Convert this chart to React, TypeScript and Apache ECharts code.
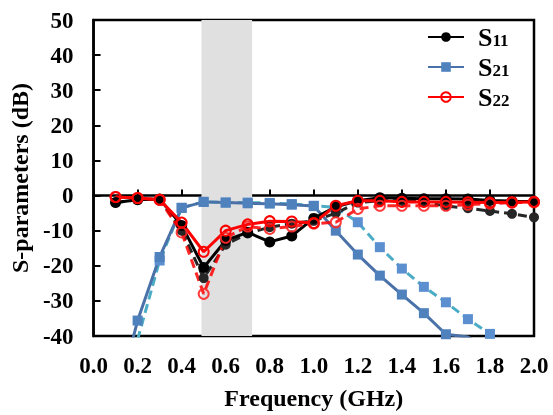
import React, { useEffect, useRef } from "react";
import * as echarts from "echarts";

const freq = [0.1, 0.2, 0.3, 0.4, 0.5, 0.6, 0.7, 0.8, 0.9, 1.0, 1.1, 1.2, 1.3, 1.4, 1.5, 1.6, 1.7, 1.8, 1.9, 2.0];
const s11Meas = [-2, -1.2, -1, -8.5, -20.5, -12.8, -10.5, -13.2, -11.5, -6.5, -3.2, -1.5, -0.6, -0.8, -0.9, -0.9, -1.0, -1.4, -1.6, -1.7];
const s11Sim = [-2, -1.2, -1, -10, -23.5, -14, -10.8, -9, -8, -7.2, -5, -2, -1.5, -1.5, -1.8, -3, -3.6, -4.4, -5.2, -6.2];
const s21Meas = [-60, -35.6, -17.5, -3.5, -1.8, -2, -2.2, -2.3, -2.6, -3, -10, -16.8, -22.8, -28.2, -33.5, -39.5, -40.3, -44, -48, -52];
const s21Sim = [-60, -41, -18.5, -3.5, -1.8, -2, -2, -2.1, -2.4, -2.9, -3.4, -7.6, -14.7, -20.8, -26, -30.4, -35.2, -39.4, -43, -47];
const s22Meas = [-0.4, -0.7, -1.2, -7.7, -16, -10, -8.2, -7.3, -7.4, -7.8, -2.9, -1.5, -1.5, -1.8, -1.8, -1.8, -1.9, -2, -1.9, -1.8];
const s22Sim = [-0.4, -0.7, -1.2, -10.5, -28, -12, -8.8, -9.5, -8.8, -8, -7.6, -3.8, -2.9, -2.9, -2.9, -2.9, -2.6, -2.3, -2, -1.9];
const band = [0.49, 0.72];
const legendNames = ["S11", "S21", "S22"];

const FONT = "'Liberation Serif', 'Times New Roman', serif";

const pairs = (ys: number[]) => freq.map((f, i) => [f, ys[i]]);

export default function App() {
  const ref = useRef<HTMLDivElement>(null);
  useEffect(() => {
    if (!ref.current) return;
    const chart = echarts.init(ref.current, undefined, { renderer: "svg" });
    const dash = [9, 5];
    chart.setOption({
      animation: false,
      grid: {
        left: 91, right: 19, top: 20, bottom: 78,
        show: true, borderColor: "#000", borderWidth: 2.5,
      },
      xAxis: {
        type: "value", min: 0, max: 2, interval: 0.2,
        name: "Frequency (GHz)", nameLocation: "middle", nameGap: 50,
        nameTextStyle: { fontFamily: FONT, fontWeight: "bold", fontSize: 24, color: "#000" },
        axisLine: { show: true, lineStyle: { color: "#000", width: 2.5 } },
        axisTick: { show: true, inside: true, length: 6, lineStyle: { color: "#000", width: 2 } },
        axisLabel: { fontFamily: FONT, fontWeight: "bold", fontSize: 23, color: "#000", margin: 18, formatter: (v: number) => v.toFixed(1) },
        splitLine: { show: false },
      },
      yAxis: {
        type: "value", min: -40, max: 50, interval: 10,
        name: "S-parameters (dB)", nameLocation: "middle", nameGap: 58,
        nameTextStyle: { fontFamily: FONT, fontWeight: "bold", fontSize: 24, color: "#000" },
        axisLine: { show: true, lineStyle: { color: "#000", width: 2.5 } },
        axisTick: { show: true, inside: true, length: 7, lineStyle: { color: "#000", width: 2 } },
        axisLabel: { fontFamily: FONT, fontWeight: "bold", fontSize: 23, color: "#000", margin: 20 },
        splitLine: { show: false },
      },
      legend: {
        data: legendNames,
        orient: "vertical",
        left: 427, top: 24, padding: 0,
        itemWidth: 36, itemHeight: 12, itemGap: 4,
        formatter: (n: string) => `{s|S}{sub|${n.slice(1)}}`,
        textStyle: {
          rich: {
            s: { fontFamily: FONT, fontWeight: "bold", fontSize: 26, color: "#000", padding: [0, 0, 0, 9], lineHeight: 24 },
            sub: { fontFamily: FONT, fontWeight: "bold", fontSize: 17, color: "#000", verticalAlign: "bottom", lineHeight: 9 },
          },
        },
      },
      series: [
        {
          name: "S21 sim", type: "line", data: pairs(s21Sim), symbol: "rect", symbolSize: 10,
          lineStyle: { color: "#4bacc6", width: 3, type: dash },
          itemStyle: { color: "#5b8fd0" },
          markArea: {
            silent: true,
            itemStyle: { color: "#e0e0e0" },
            data: [[{ xAxis: band[0] }, { xAxis: band[1] }]],
          },
        },
        {
          name: "S21", type: "line", data: pairs(s21Meas), symbol: "rect", symbolSize: 10,
          lineStyle: { color: "#4a72a8", width: 3 },
          itemStyle: { color: "#4f81bd" },
        },
        {
          name: "S11 sim", type: "line", data: pairs(s11Sim), symbol: "circle", symbolSize: 10,
          lineStyle: { color: "#262626", width: 3, type: dash },
          itemStyle: { color: "#262626" },
        },
        {
          name: "S11", type: "line", data: pairs(s11Meas), symbol: "circle", symbolSize: 11,
          lineStyle: { color: "#000", width: 3 },
          itemStyle: { color: "#000" },
        },
        {
          name: "S22 sim", type: "line", data: pairs(s22Sim), symbol: "circle", symbolSize: 10,
          lineStyle: { color: "rgba(255,0,0,0.85)", width: 3, type: dash },
          itemStyle: { color: "rgba(255,255,255,0)", borderColor: "rgba(255,40,40,0.9)", borderWidth: 2 },
        },
        {
          name: "S22", type: "line", data: pairs(s22Meas), symbol: "circle", symbolSize: 10,
          lineStyle: { color: "#ff0000", width: 3 },
          itemStyle: { color: "rgba(255,255,255,0)", borderColor: "#ff0000", borderWidth: 2 },
        },
      ],
    });
    return () => chart.dispose();
  }, []);
  return <div ref={ref} style={{ position: "fixed", left: 0, top: 0, width: 553, height: 415 }} />;
}
